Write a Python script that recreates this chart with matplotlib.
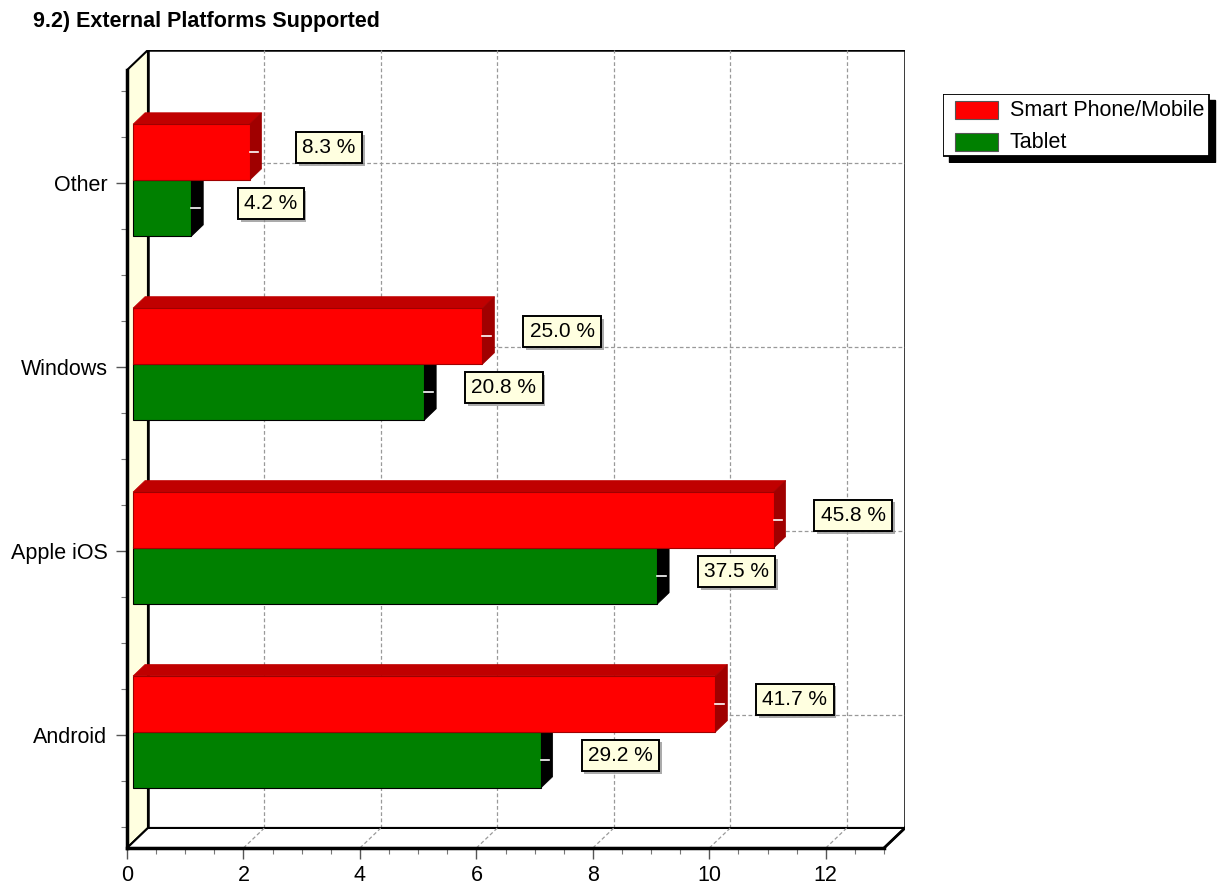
import numpy as np
import matplotlib
matplotlib.use('Agg')
import matplotlib.pyplot as plt
from matplotlib.patches import Polygon, Rectangle
import matplotlib.patheffects as pe

plt.rcParams['font.family'] = ['Liberation Sans', 'DejaVu Sans']

categories = ['Android', 'Apple iOS', 'Windows', 'Other']
phone = [10, 11, 6, 2]
tablet = [7, 9, 5, 1]
phone_pct = ['41.7 %', '45.8 %', '25.0 %', '8.3 %']
tablet_pct = ['29.2 %', '37.5 %', '20.8 %', '4.2 %']
series_names = ['Smart Phone/Mobile', 'Tablet']
xticks = [0, 2, 4, 6, 8, 10, 12]

# fake 3d geometry (data units)
XMAX = 13
YLO, YHI = -0.615, 3.615
DX, DY = 0.36, 0.109        # depth of the box
F0, F1 = 0.29, 0.86         # bar front / back as fraction of depth
BAR_H = 0.305

fig = plt.figure(figsize=(12.25, 8.9), dpi=100)
ax = fig.add_axes([127/1225, 42/890, 778/1225, 798/890])
ax.set_xlim(0, XMAX + DX)
ax.set_ylim(YLO, YHI + DY)

# back wall
ax.add_patch(Polygon([(DX, YLO+DY), (XMAX+DX, YLO+DY), (XMAX+DX, YHI+DY), (DX, YHI+DY)],
                     closed=True, facecolor='white', edgecolor='black', lw=1.8, zorder=1))
# left wall
ax.add_patch(Polygon([(0, YLO), (DX, YLO+DY), (DX, YHI+DY), (0, YHI)],
                     closed=True, facecolor='#FFFFE0', edgecolor='black', lw=1.5, zorder=1.5))
# floor
ax.add_patch(Polygon([(0, YLO), (XMAX, YLO), (XMAX+DX, YLO+DY), (DX, YLO+DY)],
                     closed=True, facecolor='white', edgecolor='black', lw=1.5, zorder=1.5))

# grid
for v in xticks[1:]:
    ax.plot([v+DX, v+DX], [YLO+DY, YHI+DY], color='#999999', ls=(0, (3, 2)), lw=0.9, zorder=1.2)
    ax.plot([v, v+DX], [YLO, YLO+DY], color='#999999', ls=(0, (3, 2)), lw=0.9, zorder=1.6)
for i in range(len(categories)):
    ax.plot([DX, XMAX+DX], [i+DY, i+DY], color='#999999', ls=(0, (3, 2)), lw=0.9, zorder=1.2)


def draw_bar(x1, y0, face, top, side):
    fx0, fy0 = F0*DX, y0 + F0*DY
    fx1, fy1 = x1 + F0*DX, fy0 + BAR_H
    bdx, bdy = (F1-F0)*DX, (F1-F0)*DY
    ax.add_patch(Polygon([(fx0, fy1), (fx1, fy1), (fx1+bdx, fy1+bdy), (fx0+bdx, fy1+bdy)],
                         closed=True, facecolor=top, edgecolor=top, lw=0.5, zorder=3))
    ax.add_patch(Polygon([(fx1, fy0), (fx1+bdx, fy0+bdy), (fx1+bdx, fy1+bdy), (fx1, fy1)],
                         closed=True, facecolor=side, edgecolor=side, lw=0.5, zorder=3))
    ax.add_patch(Rectangle((fx0, fy0), x1, BAR_H, facecolor=face, edgecolor=side, lw=0.8, zorder=3.1))
    ym = fy0 + BAR_H/2
    ax.plot([fx1, fx1 + bdx*0.7], [ym, ym], color='white', lw=1.2, zorder=3.2)
    return ym


lbl_box = dict(boxstyle='square,pad=0.3', facecolor='#FFFFE0', edgecolor='black', lw=1.4)
shadow = [pe.SimplePatchShadow(offset=(2, -2), shadow_rgbFace='#888888', alpha=0.7), pe.Normal()]
for i in range(len(categories)):
    base = i - 0.016
    ym = draw_bar(tablet[i], base - BAR_H, '#008000', '#004000', '#000000')
    t = ax.text(tablet[i] + 1.47, ym + 0.025, tablet_pct[i], ha='center', va='center',
                fontsize=15, bbox=lbl_box, zorder=5)
    t.get_bbox_patch().set_path_effects(shadow)
    ym = draw_bar(phone[i], base, '#FF0000', '#C00000', '#A00000')
    t = ax.text(phone[i] + 1.47, ym + 0.025, phone_pct[i], ha='center', va='center',
                fontsize=15, bbox=lbl_box, zorder=5)
    t.get_bbox_patch().set_path_effects(shadow)

# front right edge of floor
ax.plot([XMAX, XMAX+DX], [YLO, YLO+DY], color='black', lw=2, zorder=2)

for s in ['top', 'right']:
    ax.spines[s].set_visible(False)
ax.spines['left'].set_bounds(YLO, YHI)
ax.spines['bottom'].set_bounds(0, XMAX)
ax.spines['left'].set_linewidth(2.5)
ax.spines['bottom'].set_linewidth(2.5)
ax.spines['left'].set_zorder(4)
ax.spines['bottom'].set_zorder(4)

ax.set_xticks(xticks)
ax.set_xticks(np.arange(0, XMAX + 0.01, 0.5), minor=True)
ax.set_yticks(range(len(categories)))
ax.set_yticklabels(categories)
ax.set_yticks(np.arange(-0.5, 3.51, 0.25), minor=True)
ax.tick_params(axis='both', which='major', labelsize=15.5, length=8, width=1, color='#555555')
ax.tick_params(axis='both', which='minor', length=4, width=0.8, color='#777777')
ax.tick_params(axis='x', pad=4)
ax.tick_params(axis='y', pad=6)

fig.text(33/1225, 1 - 21/890, '9.2) External Platforms Supported', fontsize=15.5,
         fontweight='bold', ha='left', va='center',
         family=['Liberation Sans Narrow', 'Liberation Sans', 'DejaVu Sans'])

# legend
lax = fig.add_axes([943/1225, (890-163)/890, 274/1225, 69/890])
lax.set_xlim(0, 274)
lax.set_ylim(69, 0)
lax.axis('off')
lax.add_patch(Rectangle((6, 6), 266, 62, facecolor='black', edgecolor='black', zorder=1))
lax.add_patch(Rectangle((0, 0), 266, 62, facecolor='white', edgecolor='black', lw=1.3, zorder=2))
leg_colors = ['#FF0000', '#008000']
for k, name in enumerate(series_names):
    y = 7 + k*32
    lax.add_patch(Rectangle((12, y), 43, 18, facecolor=leg_colors[k], edgecolor='#555555', lw=0.8, zorder=3))
    lax.text(67, y + 9, name, fontsize=15.5, va='center', ha='left', zorder=3, clip_on=True)

fig.savefig('out.png', dpi=100)
